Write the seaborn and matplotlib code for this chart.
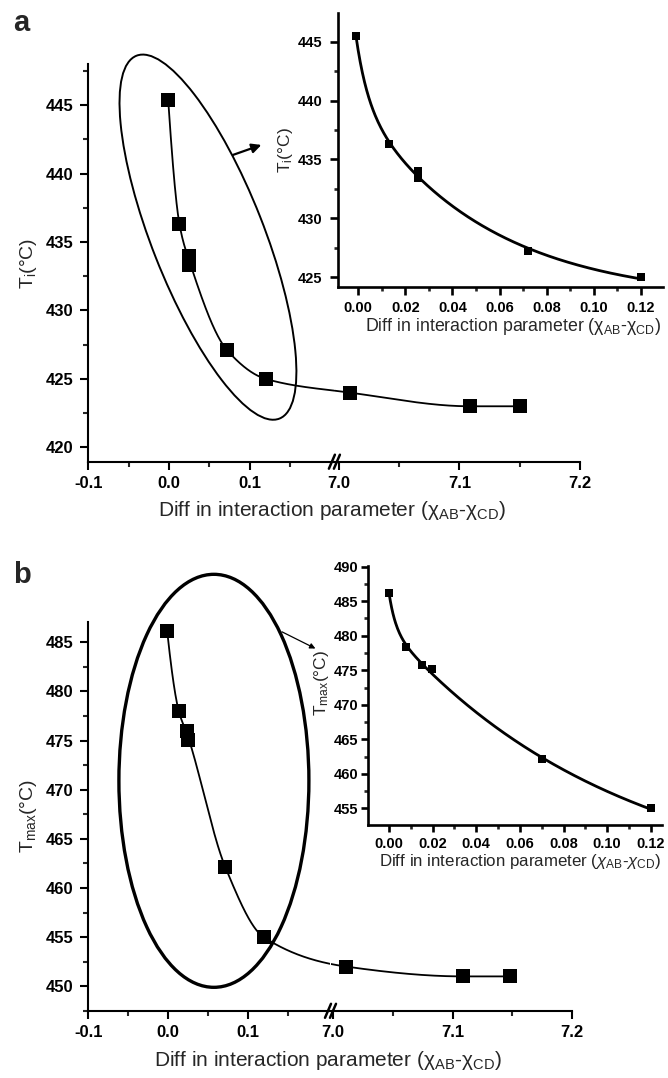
import numpy as np
import pandas as pd
import matplotlib
matplotlib.use("Agg")
import matplotlib.pyplot as plt
import seaborn as sns
from matplotlib.patches import Ellipse
from matplotlib.transforms import ScaledTranslation
from matplotlib.ticker import MultipleLocator, FormatStrFormatter, FixedLocator

# ---------------- data ----------------
a_main_x = [-0.001, 0.013, 0.025, 0.025, 0.072, 0.120]
a_main_y = [445.4, 436.3, 434.0, 433.3, 427.1, 425.0]
a_break_x = [7.009, 7.109, 7.150]
a_break_y = [424.0, 423.0, 423.0]
a_inset_x = [-0.001, 0.013, 0.0255, 0.0255, 0.072, 0.120]
a_inset_y = [445.5, 436.3, 434.0, 433.4, 427.2, 425.0]

b_main_x = [-0.001, 0.0135, 0.024, 0.025, 0.072, 0.120]
b_main_y = [486.1, 478.0, 476.0, 475.1, 462.1, 455.0]
b_break_x = [7.011, 7.109, 7.148]
b_break_y = [452.0, 451.0, 451.0]
b_inset_x = [0.000, 0.008, 0.015, 0.0195, 0.070, 0.120]
b_inset_y = [486.2, 478.3, 475.8, 475.2, 462.1, 455.0]

left_ticks = [-0.1, 0.0, 0.1]
left_minor = [-0.05, 0.05, 0.15]
right_ticks = [7.0, 7.1, 7.2]
right_minor = [7.05, 7.15]

xlabel_text = "Diff in interaction parameter (χ$_{\\rm AB}$-χ$_{\\rm CD}$)"
xlabel_text_it = "Diff in interaction parameter ($\\chi_{\\rm AB}$-$\\chi_{\\rm CD}$)"

# ---------------- style ----------------
sns.set_theme(style="ticks")
plt.rcParams["font.family"] = ["Liberation Sans", "DejaVu Sans"]
plt.rcParams["mathtext.fontset"] = "custom"
plt.rcParams["mathtext.rm"] = "Liberation Sans"
plt.rcParams["mathtext.it"] = "Liberation Sans:italic"
plt.rcParams["mathtext.bf"] = "Liberation Sans:bold"
plt.rcParams["axes.unicode_minus"] = False

W, H = 668, 1078
fig = plt.figure(figsize=(W / 100, H / 100), dpi=100)
fig.patch.set_facecolor("white")


def px_axes(x0, x1, ytop, ybot):
    ax = fig.add_axes([x0 / W, 1 - ybot / H, (x1 - x0) / W, (ybot - ytop) / H])
    ax.set_facecolor("none")
    return ax


def biexp_fit(u, y, t1min=0.003):
    u = np.asarray(u, float)
    y = np.asarray(y, float)
    best = None
    for t1 in np.geomspace(t1min, 0.05, 70):
        for t2 in np.geomspace(0.02, 2.0, 70):
            if t2 <= t1 * 1.5:
                continue
            M = np.column_stack([np.ones_like(u), np.exp(-u / t1), np.exp(-u / t2)])
            coef, *_ = np.linalg.lstsq(M, y, rcond=None)
            if coef[1] < 0 or coef[2] < 0:
                continue
            sse = float(np.sum((M @ coef - y) ** 2))
            if best is None or sse < best[0]:
                best = (sse, t1, t2, coef)
    _, t1, t2, c = best
    return lambda uu: c[0] + c[1] * np.exp(-uu / t1) + c[2] * np.exp(-uu / t2)


def pchip(xk, yk, xq):
    xk = np.asarray(xk, float)
    yk = np.asarray(yk, float)
    h = np.diff(xk)
    d = np.diff(yk) / h
    n = len(xk)
    m = np.zeros(n)
    for k in range(1, n - 1):
        if d[k - 1] * d[k] <= 0:
            m[k] = 0.0
        else:
            w1 = 2 * h[k] + h[k - 1]
            w2 = h[k] + 2 * h[k - 1]
            m[k] = (w1 + w2) / (w1 / d[k - 1] + w2 / d[k])

    def endslope(h0, h1, d0, d1):
        s = ((2 * h0 + h1) * d0 - h0 * d1) / (h0 + h1)
        if np.sign(s) != np.sign(d0):
            return 0.0
        if np.sign(d0) != np.sign(d1) and abs(s) > abs(3 * d0):
            return 3 * d0
        return s

    m[0] = endslope(h[0], h[1], d[0], d[1])
    m[-1] = endslope(h[-1], h[-2], d[-1], d[-2])
    idx = np.clip(np.searchsorted(xk, xq) - 1, 0, n - 2)
    t = (xq - xk[idx]) / h[idx]
    h00 = 2 * t ** 3 - 3 * t ** 2 + 1
    h10 = t ** 3 - 2 * t ** 2 + t
    h01 = -2 * t ** 3 + 3 * t ** 2
    h11 = t ** 3 - t ** 2
    return (h00 * yk[idx] + h10 * h[idx] * m[idx] + h01 * yk[idx + 1]
            + h11 * h[idx] * m[idx + 1])


def merge_close(x, y, tol=0.003):
    xs, ys = [], []
    for xi, yi in sorted(zip(x, y)):
        if xs and xi - xs[-1][-1] < tol:
            xs[-1].append(xi)
            ys[-1].append(yi)
        else:
            xs.append([xi])
            ys.append([yi])
    return np.array([np.mean(g) for g in xs]), np.array([np.mean(g) for g in ys])


def style_axis(ax, lw, ticklen, minorlen, fs, pad):
    for s in ["top", "right"]:
        ax.spines[s].set_visible(False)
    for s in ["left", "bottom"]:
        ax.spines[s].set_linewidth(lw)
        ax.spines[s].set_color("black")
    ax.tick_params(which="major", direction="out", length=ticklen, width=lw,
                   labelsize=fs, pad=pad, colors="black")
    ax.tick_params(which="minor", direction="out", length=minorlen, width=lw)
    ax.grid(False)


def bold_labels(*axes):
    for ax in axes:
        for lab in ax.get_xticklabels() + ax.get_yticklabels():
            lab.set_fontweight("bold")


def main_panel(xL, xR, ytop, ybot, xlimL, xlimR, ylim, yticks_major,
               mx, my, bx, by, letter, ylab, letter_y, xlab_y, ylab_x):
    axL = px_axes(xL[0], xL[1], ytop, ybot)
    axR = px_axes(xR[0], xR[1], ytop, ybot)
    axL.set_xlim(*xlimL)
    axR.set_xlim(*xlimR)
    axL.set_ylim(*ylim)
    axR.set_ylim(*ylim)

    # smooth curve through the points across the break (in broken-axis coordinate u)
    scaleL = (xL[1] - xL[0]) / (xlimL[1] - xlimL[0])
    scaleR = (xR[1] - xR[0]) / (xlimR[1] - xlimR[0])
    r = scaleR / scaleL
    u_break = xlimL[1]
    u_all = np.concatenate([np.asarray(mx), u_break + (np.asarray(bx) - xlimR[0]) * r])
    y_all = np.concatenate([my, by])
    uk, yk = merge_close(u_all, y_all)
    uu = np.linspace(uk.min(), uk.max(), 800)
    yy = pchip(uk, yk, uu)
    left = uu <= u_break
    curveL = pd.DataFrame({"x": uu[left], "y": yy[left]})
    curveR = pd.DataFrame({"x": xlimR[0] + (uu[~left] - u_break) / r, "y": yy[~left]})
    sns.lineplot(data=curveL, x="x", y="y", ax=axL, color="black", lw=1.3,
                 sort=False, estimator=None, zorder=3)
    sns.lineplot(data=curveR, x="x", y="y", ax=axR, color="black", lw=1.3,
                 sort=False, estimator=None, zorder=3)

    sns.scatterplot(x=mx, y=my, ax=axL, marker="s", s=95, color="black",
                    edgecolor="black", linewidth=0, zorder=4, clip_on=False)
    sns.scatterplot(x=bx, y=by, ax=axR, marker="s", s=95, color="black",
                    edgecolor="black", linewidth=0, zorder=4, clip_on=False)

    for ax in (axL, axR):
        style_axis(ax, 1.5, 5.5, 3.5, 12, 5)
        ax.set_xlabel("")
        ax.set_ylabel("")
    axL.xaxis.set_major_locator(FixedLocator(left_ticks))
    axL.xaxis.set_minor_locator(FixedLocator(left_minor))
    axL.xaxis.set_major_formatter(FormatStrFormatter("%.1f"))
    axR.xaxis.set_major_locator(FixedLocator(right_ticks))
    axR.xaxis.set_minor_locator(FixedLocator(right_minor))
    axR.xaxis.set_major_formatter(FormatStrFormatter("%.1f"))
    axL.set_yticks(yticks_major)
    axL.yaxis.set_minor_locator(MultipleLocator(2.5))
    axR.spines["left"].set_visible(False)
    axR.tick_params(axis="y", which="both", left=False, labelleft=False)
    bold_labels(axL, axR)

    # break marks
    tr = fig.dpi_scale_trans + ScaledTranslation(1, 0, axL.transAxes)
    for dx in (-0.025, 0.025):
        axL.plot([dx - 0.03, dx + 0.03], [-0.07, 0.07], transform=tr,
                 color="black", lw=1.8, clip_on=False, zorder=6)

    fig.text(12.7 / W, 1 - letter_y / H, letter, fontsize=21, fontweight="bold",
             va="baseline", ha="left")
    fig.text(((xL[0] + xR[1]) / 2 - 2) / W, 1 - xlab_y / H, xlabel_text,
             fontsize=15, ha="center", va="center")
    axL.set_ylabel(ylab, fontsize=14)
    axL.yaxis.set_label_coords((ylab_x - xL[0]) / (xL[1] - xL[0]), 0.5)
    return axL, axR


def inset_panel(x0, x1, ytop, ybot, xlim, ylim, yticks_major, ix, iy, ylab,
                xlab, xlab_x, xlab_y, xlab_fs, ylab_x, ylab_yfrac, t1min, ticklen, pad):
    ax = px_axes(x0, x1, ytop, ybot)
    ax.set_xlim(*xlim)
    ax.set_ylim(*ylim)
    f = biexp_fit(ix, iy, t1min)
    xx = np.linspace(min(ix), max(ix), 400)
    curve = pd.DataFrame({"x": xx, "y": f(xx)})
    sns.lineplot(data=curve, x="x", y="y", ax=ax, color="black", lw=2.0,
                 sort=False, estimator=None, zorder=3)
    sns.scatterplot(x=ix, y=iy, ax=ax, marker="s", s=40, color="black",
                    edgecolor="black", linewidth=0, zorder=4, clip_on=False)
    ax.set_xlabel("")
    ax.set_ylabel(ylab, fontsize=12.5)
    ax.xaxis.set_major_locator(MultipleLocator(0.02))
    ax.xaxis.set_minor_locator(MultipleLocator(0.01))
    ax.xaxis.set_major_formatter(FormatStrFormatter("%.2f"))
    ax.set_yticks(yticks_major)
    ax.yaxis.set_minor_locator(MultipleLocator(2.5))
    style_axis(ax, 1.9, ticklen, 3.0, 10.5, pad)
    ax.tick_params(axis="x", which="major", pad=4)
    bold_labels(ax)
    ax.yaxis.set_label_coords((ylab_x - x0) / (x1 - x0), ylab_yfrac)
    fig.text(xlab_x / W, 1 - xlab_y / H, xlab, fontsize=xlab_fs,
             ha="center", va="center")
    return ax


# ---------------- panel a ----------------
axaL, axaR = main_panel(xL=(88.3, 334.4), xR=(334.4, 580.0), ytop=64.2, ybot=461.7,
                        xlimL=(-0.1, 0.205), xlimR=(6.9962, 7.2), ylim=(418.95, 448.0),
                        yticks_major=[420, 425, 430, 435, 440, 445],
                        mx=a_main_x, my=a_main_y, bx=a_break_x, by=a_break_y,
                        letter="a", ylab="T$_{\\rm i}$(°C)", letter_y=31,
                        xlab_y=511, ylab_x=39)
ell_a = Ellipse((0, 0), width=3.90, height=1.12, angle=-68.5, fill=False,
                edgecolor="black", lw=1.4, clip_on=False, zorder=5,
                transform=fig.dpi_scale_trans + ScaledTranslation(0.0483, 435.36, axaL.transData))
axaL.add_patch(ell_a)
axaL.annotate("", xy=(0.1145, 442.1), xytext=(0.0793, 441.37), xycoords="data",
              arrowprops=dict(arrowstyle="-|>", color="black", lw=1.6,
                              mutation_scale=14, shrinkA=0, shrinkB=0),
              annotation_clip=False)

inset_panel(338.3, 663.3, 12.7, 287.3, xlim=(-0.0085, 0.1296), ylim=(424.15, 447.46),
            yticks_major=[425, 430, 435, 440, 445], ix=a_inset_x, iy=a_inset_y,
            ylab="T$_{\\rm i}$(°C)", xlab=xlabel_text, xlab_x=513, xlab_y=326,
            xlab_fs=12.8, ylab_x=295, ylab_yfrac=0.5, t1min=0.005, ticklen=5.8, pad=5.5)

# ---------------- panel b ----------------
axbL, axbR = main_panel(xL=(88.3, 330.5), xR=(330.5, 572.0), ytop=621.6, ybot=1010.8,
                        xlimL=(-0.1, 0.2039), xlimR=(6.9979, 7.2), ylim=(447.5, 487.1),
                        yticks_major=[450, 455, 460, 465, 470, 475, 480, 485],
                        mx=b_main_x, my=b_main_y, bx=b_break_x, by=b_break_y,
                        letter="b", ylab="T$_{\\rm max}$(°C)", letter_y=583,
                        xlab_y=1060, ylab_x=39)
ell_b = Ellipse((0, 0), width=1.90, height=4.13, angle=0, fill=False,
                edgecolor="black", lw=2.4, clip_on=False, zorder=5,
                transform=fig.dpi_scale_trans + ScaledTranslation(0.0576, 470.9, axbL.transData))
axbL.add_patch(ell_b)
axbL.annotate("", xy=(0.185, 484.36), xytext=(0.143, 486.06), xycoords="data",
              arrowprops=dict(arrowstyle="-|>", color="black", lw=0.9,
                              mutation_scale=8, shrinkA=0, shrinkB=0),
              annotation_clip=False)

inset_panel(368.3, 661.7, 566.0, 825.0, xlim=(-0.0095, 0.125), ylim=(452.6, 490.1),
            yticks_major=[455, 460, 465, 470, 475, 480, 485, 490], ix=b_inset_x,
            iy=b_inset_y, ylab="T$_{\\rm max}$(°C)", xlab=xlabel_text_it,
            xlab_x=520, xlab_y=861.7, xlab_fs=12.2, ylab_x=331, ylab_yfrac=0.55,
            t1min=0.003, ticklen=5.0, pad=2.2)

fig.savefig("out.png", dpi=100, facecolor="white")
